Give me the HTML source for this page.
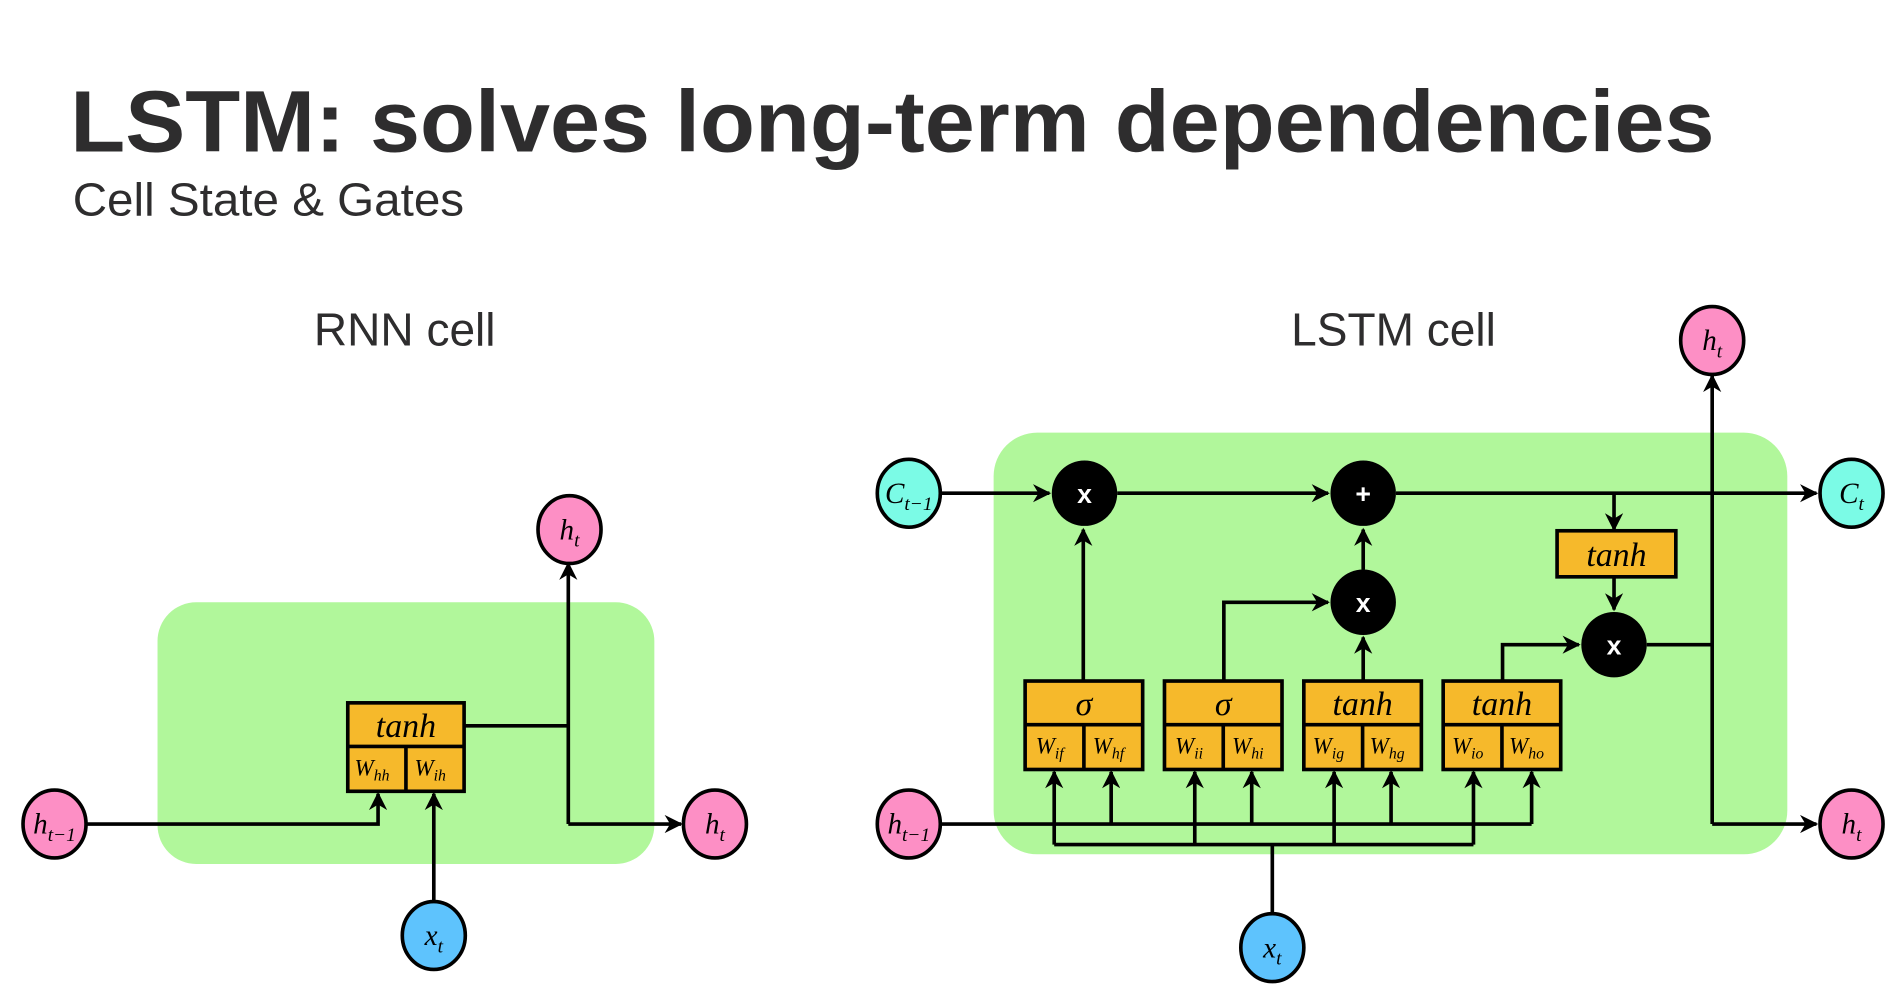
<!DOCTYPE html>
<html><head><meta charset="utf-8"><style>
html,body{margin:0;padding:0;background:#fff;width:1900px;height:984px;overflow:hidden}
svg{display:block}
.m{font-family:"Liberation Serif",serif;font-style:italic;fill:#000}
.h{font-family:"Liberation Sans",sans-serif;fill:#2e2d2e}
</style></head><body>
<svg id="s" width="1900" height="984" viewBox="0 0 1568 812" xmlns="http://www.w3.org/2000/svg">
<defs><marker id="ar" viewBox="0 0 10 10" refX="9" refY="5" markerWidth="5" markerHeight="5" orient="auto"><path d="M0,0 L10,5 L0,10 L3,5 z" fill="#000"/></marker></defs>
<text class="h" x="58" y="125" font-size="72" font-weight="bold" textLength="1357" lengthAdjust="spacingAndGlyphs">LSTM: solves long-term dependencies</text>
<text class="h" x="60" y="178" font-size="38" textLength="323" lengthAdjust="spacingAndGlyphs">Cell State &amp; Gates</text>
<text class="h" x="334" y="285" font-size="38" text-anchor="middle">RNN cell</text>
<text class="h" x="1150" y="285" font-size="38" text-anchor="middle">LSTM cell</text>
<rect x="130" y="497" width="410" height="216" rx="32" fill="#b1f79b"/>
<rect x="820" y="357" width="655" height="348" rx="36" fill="#b1f79b"/>
<g id="lines" stroke="#000" stroke-width="3" fill="none"></g>
<g id="nodes"></g>
</svg>
<script>
const NS='http://www.w3.org/2000/svg';
const L=document.getElementById('lines'),N=document.getElementById('nodes');
function path(d,arrow,name){const p=document.createElementNS(NS,'path');p.setAttribute('d',d);if(arrow)p.setAttribute('marker-end','url(#ar)');


L.appendChild(p);}
function circ(cx,cy,fill,main,sub,name){const g=document.createElementNS(NS,'g');


const e=document.createElementNS(NS,'ellipse');e.setAttribute('cx',cx);e.setAttribute('cy',cy);e.setAttribute('rx',26);e.setAttribute('ry',28);e.setAttribute('fill',fill);e.setAttribute('stroke','#000');e.setAttribute('stroke-width',3);g.appendChild(e);
const t=document.createElementNS(NS,'text');t.setAttribute('class','m');t.setAttribute('x',cx);t.setAttribute('y',cy+8);t.setAttribute('text-anchor','middle');t.setAttribute('font-size',24);
t.innerHTML=main+'<tspan font-size="16" dy="6">'+sub+'</tspan>';g.appendChild(t);N.appendChild(g);}
function op(cx,cy,s,name){const g=document.createElementNS(NS,'g');


g.innerHTML='<circle cx="'+cx+'" cy="'+cy+'" r="27" fill="#000"/><text x="'+cx+'" y="'+(cy+8)+'" text-anchor="middle" font-family="Liberation Sans,sans-serif" font-weight="bold" font-size="22" fill="#fff">'+s+'</text>';N.appendChild(g);}
function gate(x,y,w,fn,w1,w2,name){const g=document.createElementNS(NS,'g');


const h=73,sp=36,m=x+w/2;
g.innerHTML='<rect x="'+x+'" y="'+y+'" width="'+w+'" height="'+h+'" fill="#f6b92b" stroke="#000" stroke-width="3"/>'+
'<line x1="'+x+'" y1="'+(y+sp)+'" x2="'+(x+w)+'" y2="'+(y+sp)+'" stroke="#000" stroke-width="3"/>'+
'<line x1="'+m+'" y1="'+(y+sp)+'" x2="'+m+'" y2="'+(y+h)+'" stroke="#000" stroke-width="3"/>'+
'<text class="m" x="'+m+'" y="'+(y+28)+'" text-anchor="middle" font-size="28">'+fn+'</text>'+
'<text class="m" x="'+(x+w/4-4)+'" y="'+(y+60)+'" text-anchor="middle" font-size="19">W<tspan font-size="13" dy="4">'+w1+'</tspan></text>'+
'<text class="m" x="'+(x+3*w/4-4)+'" y="'+(y+60)+'" text-anchor="middle" font-size="19">W<tspan font-size="13" dy="4">'+w2+'</tspan></text>';
N.appendChild(g);}
// RNN
path('M72,680 H312 V655',1,'rnn-hprev-arrow');
path('M358,745 V655',1,'rnn-x-arrow');
path('M383,599 H469',0,'rnn-tanh-out');
path('M469,680 V465',1,'rnn-h-up-arrow');
path('M469,680 H562',1,'rnn-h-right-arrow');
gate(287,580,96,'tanh','hh','ih','rnn-tanh-gate');
circ(45,680,'#fd8fc5','h','t−1','rnn-h-prev');
circ(470,437,'#fd8fc5','h','t','rnn-h-out-top');
circ(590,680,'#fd8fc5','h','t','rnn-h-out-right');
circ(358,772,'#5ec3fd','x','t','rnn-x-input');
// LSTM
path('M777,407 H866',1,'c-prev-arrow');
path('M922,407 H1096',1,'c-forget-arrow');
path('M1152,407 H1499',1,'c-out-arrow');
path('M1332,407 V437',1,'c-tanh-arrow');
path('M1332,476 V503',1,'tanh-mult-arrow');
path('M1359,532 H1413',0,'out-mult-line');
path('M1413,680 V310',1,'h-up-arrow');
path('M1413,680 H1499',1,'h-right-arrow');
path('M1125,470 V437',1,'input-plus-arrow');
path('M1125,562 V526',1,'g-mult-arrow');
path('M894,562 V437',1,'f-mult-arrow');
path('M1010,562 V497 H1096',1,'i-mult-arrow');
path('M1240,562 V532 H1303',1,'o-mult-arrow');
path('M777,680 H1264',0,'h-prev-bus');
[917,1033,1148,1264].forEach(x=>path('M'+x+',680 V637',1,'h-to-gate-arrow'));
path('M1050,755 V697',0,'x-stem');
path('M870,697 H1216',0,'x-bus');
[870,986,1101,1216].forEach(x=>path('M'+x+',697 V637',1,'x-to-gate-arrow'));
gate(846,562,97,'σ','if','hf','forget-gate');
gate(961,562,97,'σ','ii','hi','input-gate');
gate(1076,562,97,'tanh','ig','hg','candidate-gate');
gate(1191,562,97,'tanh','io','ho','output-gate');
const tb=document.createElementNS(NS,'g');


tb.innerHTML='<rect x="1285" y="438" width="98" height="38" fill="#f6b92b" stroke="#000" stroke-width="3"/><text class="m" x="1334" y="467" text-anchor="middle" font-size="28">tanh</text>';
N.appendChild(tb);
op(895,407,'x','forget-multiply');
op(1125,407,'+','cell-add');
op(1125,497,'x','input-multiply');
op(1332,532,'x','output-multiply');
circ(750,407,'#7bfbe6','C','t−1','c-prev');
circ(1528,407,'#7bfbe6','C','t','c-out');
circ(750,680,'#fd8fc5','h','t−1','h-prev');
circ(1413,281,'#fd8fc5','h','t','h-out-top');
circ(1528,680,'#fd8fc5','h','t','h-out-right');
circ(1050,782,'#5ec3fd','x','t','x-input');
</script>
</body></html>
